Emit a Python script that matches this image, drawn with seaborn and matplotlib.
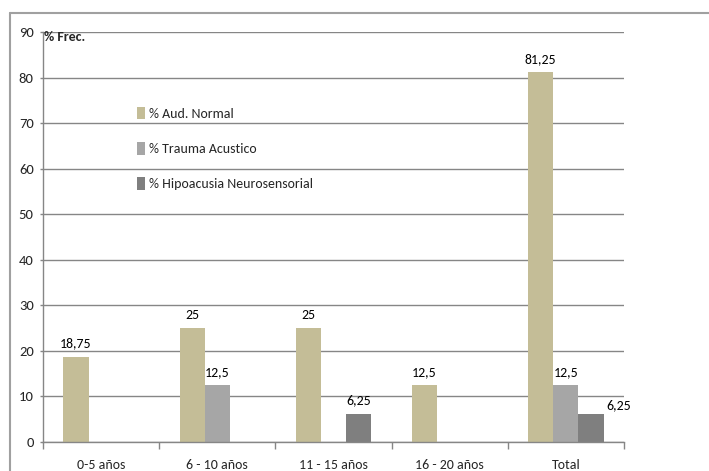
import numpy as np
import pandas as pd
import matplotlib
matplotlib.use("Agg")
import matplotlib.pyplot as plt
from matplotlib import font_manager
from matplotlib.lines import Line2D
import seaborn as sns

categories = ["0-5 años", "6 - 10 años", "11 - 15 años", "16 - 20 años", "Total"]
series_names = ["% Aud. Normal", "% Trauma Acustico", "% Hipoacusia Neurosensorial"]
aud_normal = [18.75, 25, 25, 12.5, 81.25]
trauma = [np.nan, 12.5, np.nan, np.nan, 12.5]
hipoacusia = [np.nan, np.nan, 6.25, np.nan, 6.25]
colors = ["#C4BD97", "#A6A6A6", "#7F7F7F"]
yticks = [0, 10, 20, 30, 40, 50, 60, 70, 80, 90]

sns.set_theme(style="white")
names = {f.name for f in font_manager.fontManager.ttflist}
fam = "Liberation Sans"
for cand in ["Carlito", "Liberation Sans Narrow"]:
    if cand in names:
        fam = cand
        break
plt.rcParams["font.family"] = [fam, "DejaVu Sans"]
fs = 10
px = fs * 100 / 72

rows = []
for i, c in enumerate(categories):
    for s, vals in zip(series_names, [aud_normal, trauma, hipoacusia]):
        rows.append({"cat": c, "serie": s, "val": vals[i]})
df = pd.DataFrame(rows)

W, H = 709, 471
fig = plt.figure(figsize=(W / 100, H / 100), dpi=100)
ax = fig.add_axes([43 / W, 1 - 442 / H, (624 - 43) / W, (442 - 32) / H])

sns.barplot(data=df, x="cat", y="val", hue="serie", order=categories,
            hue_order=series_names, palette=colors, width=0.65, saturation=1,
            edgecolor="none", ax=ax, legend=True)

ax.set_ylim(0, 90)
ax.set_xlim(-0.5, len(categories) - 0.5)
ax.set_yticks(yticks)
ax.set_yticklabels([str(t) for t in yticks], fontsize=10.5)
ax.yaxis.grid(True, color="#868686", linewidth=1)
ax.set_axisbelow(True)
ax.set_xlabel("")
ax.set_ylabel("")
ax.tick_params(axis="y", length=2.2, width=1, color="#868686", pad=4.5, left=True)
ax.tick_params(axis="x", length=0, pad=12, labelsize=fs)
ax.set_xticks(np.arange(-0.5, len(categories)), minor=True)
ax.tick_params(axis="x", which="minor", length=5, width=1, color="#868686", bottom=True)
for sp in ["top", "right"]:
    ax.spines[sp].set_visible(False)
for sp in ["left", "bottom"]:
    ax.spines[sp].set_color("#868686")
    ax.spines[sp].set_linewidth(1)

# value labels
for hi, cont in enumerate(ax.containers):
    for p in cont:
        h = p.get_height()
        if not np.isfinite(h) or h <= 0:
            continue
        xc = p.get_x() + p.get_width() / 2
        lab = f"{h:g}".replace(".", ",")
        dx, dy = 0, 5
        if hi == 2 and xc > len(categories) - 1.5:
            dx, dy = 20, 1.5
        ax.annotate(lab, (xc, h), xytext=(dx, dy), textcoords="offset points",
                    ha="center", va="bottom", fontsize=fs, color="black")

ax.text(0.002, 90.3, "% Frec.", transform=ax.get_yaxis_transform(), ha="left", va="top",
        fontsize=fs, fontweight="bold")

leg = ax.legend(loc="upper left", bbox_to_anchor=(137 / W, 1 - 107 / H),
                bbox_transform=fig.transFigure, frameon=False, fontsize=fs,
                handlelength=0.6, handleheight=1.0, handletextpad=0.25,
                labelspacing=36 / px - 1, borderpad=0, borderaxespad=0)

# outer chart frame
fig.add_artist(Line2D([10 / W, 1], [1 - 13 / H, 1 - 13 / H], color="#A0A0A0", lw=1.5,
                      transform=fig.transFigure))
fig.add_artist(Line2D([10 / W, 10 / W], [0, 1 - 13 / H], color="#A0A0A0", lw=1.5,
                      transform=fig.transFigure))

fig.savefig("out.png", dpi=100)
